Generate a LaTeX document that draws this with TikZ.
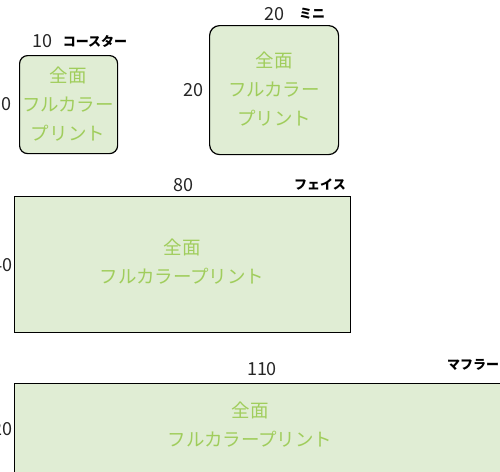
\documentclass[tikz,border=0pt]{standalone}
\usepackage{fontspec}
\setmainfont{Noto Sans CJK JP}
\usetikzlibrary{positioning}

\definecolor{printfill}{RGB}{224,237,212}
\definecolor{printgreen}{RGB}{160,205,92}

\begin{document}
\begin{tikzpicture}[
    x=1pt, y=-1pt,
    every node/.style={font=\fontsize{18}{20}\selectfont, inner sep=0pt},
    towel/.style={draw=black, line width=1.2pt, fill=printfill, anchor=north west},
    print/.style={font=\fontsize{18.5}{29}\selectfont, text=printgreen, align=center},
    dim/.style={font=\fontsize{18}{20}\selectfont, text=black!85},
    tag/.style={font=\fontsize{13}{15}\selectfont\bfseries}
]
\useasboundingbox (0,0) rectangle (500,471);
\clip (0,0) rectangle (500,471);

% ===== Coaster =====
\node[towel, rounded corners=8pt, minimum width=98pt, minimum height=98pt] (coaster) at (19,55) {};
\node[print] (coasterText) at (68,104) {全面\\フルカラー\\プリント};
\node[dim] (coasterW) at (42,41) {10};
\node[tag] (coasterTag) at (95,41) {コースター};
\node[dim, anchor=east] (coasterH) at (12,104) {10};

% ===== Mini =====
\node[towel, rounded corners=10pt, minimum width=129pt, minimum height=129pt] (mini) at (209,25) {};
\node[print] (miniText) at (274,89) {全面\\フルカラー\\プリント};
\node[dim] (miniW) at (274,14) {20};
\node[tag] (miniTag) at (312,14) {ミニ};
\node[dim, anchor=east] (miniH) at (204,90) {20};

% ===== Face =====
\node[towel, minimum width=336pt, minimum height=136pt] (face) at (14,196) {};
\node[print] (faceText) at (182,262) {全面\\フルカラープリント};
\node[dim] (faceW) at (183,185) {80};
\node[tag] (faceTag) at (320,184) {フェイス};
\node[dim, anchor=east] (faceH) at (13,265) {40};

% ===== Muffler =====
\node[towel, minimum width=520pt, minimum height=140pt] (muffler) at (14,383) {};
\node[print] (mufflerText) at (250,425) {全面\\フルカラープリント};
\node[dim] (mufflerW) at (262,369) {110};
\node[tag, anchor=west] (mufflerTag) at (447,365) {マフラー};
\node[dim, anchor=east] (mufflerH) at (13,429) {20};

\end{tikzpicture}
\end{document}
